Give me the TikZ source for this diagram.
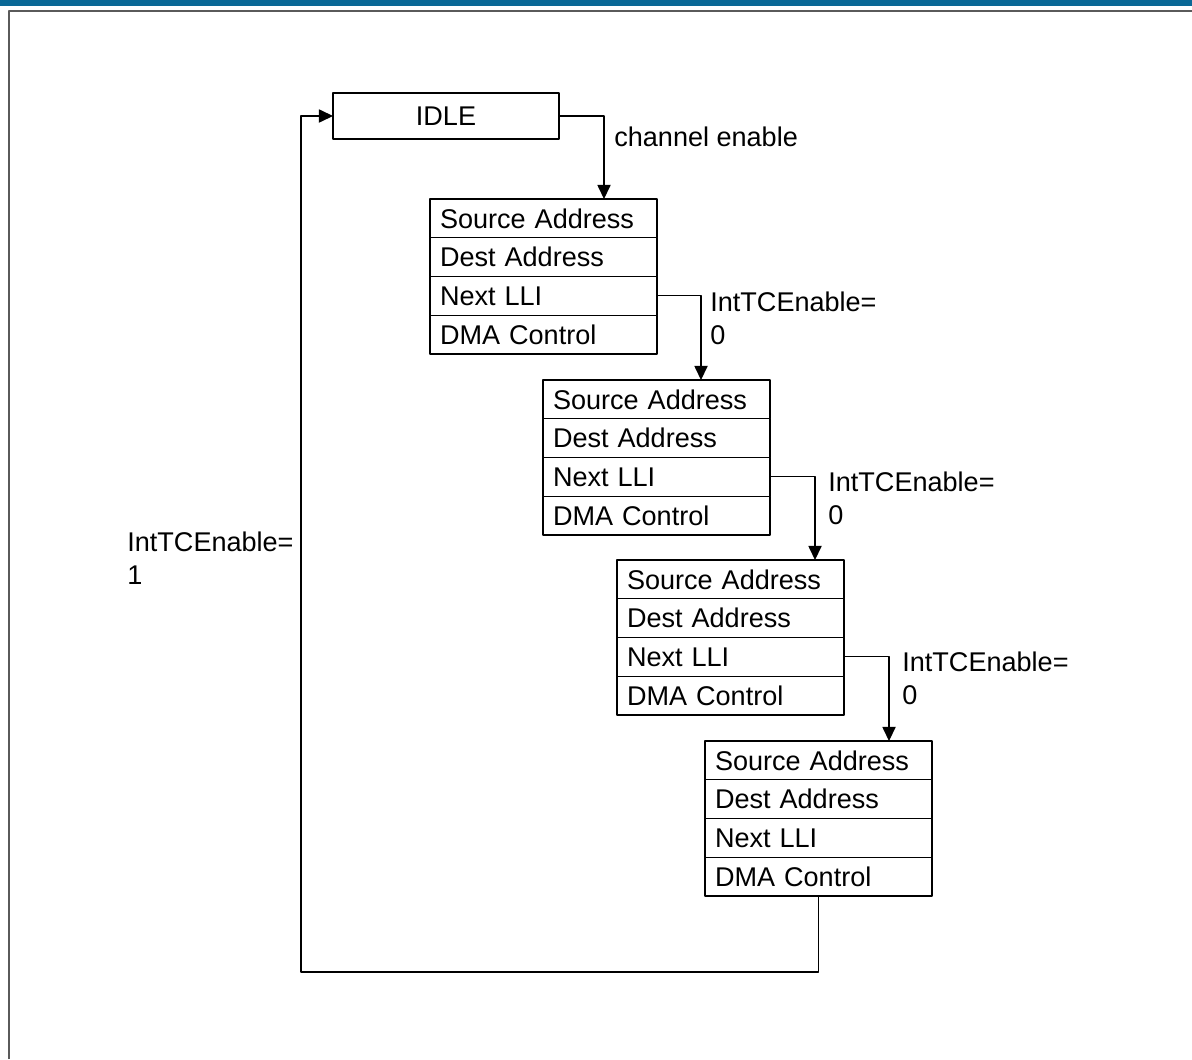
\documentclass[tikz,border=0pt]{standalone}
\usepackage{fontspec}
\setmainfont{Liberation Sans}
\usetikzlibrary{arrows.meta, positioning, calc}
\definecolor{bandblue}{RGB}{10,104,150}
\definecolor{framegray}{RGB}{90,90,90}

\begin{document}
\begin{tikzpicture}[x=0.02cm, y=-0.02cm, line join=round,
    font=\fontsize{15.4}{18.6}\selectfont,
    field/.style={draw, line width=0.7pt, text width=4.14cm, align=left,
      inner xsep=0.2cm, inner ysep=0pt, outer sep=0pt, minimum height=0.775cm,
      text height=11pt, text depth=0pt},
    state/.style={draw, line width=0.7pt, minimum width=4.52cm,
      minimum height=0.92cm, inner sep=0pt, outer sep=0pt},
    cond/.style={align=left, anchor=north west, inner sep=0pt},
    flow/.style={line width=0.7pt, -{Triangle[length=8pt, width=7.5pt]}}]
  \useasboundingbox (0,0) rectangle (1192,1059);
  % page frame
  \fill[bandblue] (0,0) rectangle (1192,6);
  \draw[framegray, line width=0.8pt] (9,1059) -- (9,11) -- (1192,11);

  % states
  \node[state, anchor=north west] (idle) at (333,93) {IDLE};
  \foreach \i/\x/\y in {1/430/199, 2/543/380, 3/617/560, 4/705/741} {
    \node[field, anchor=north west] (src\i) at (\x,\y) {Source Address};
    \node[field, below=0pt of src\i] (dst\i) {Dest Address};
    \node[field, below=0pt of dst\i] (nxt\i) {Next LLI};
    \node[field, below=0pt of nxt\i] (ctl\i) {DMA Control};
  }

  % transitions
  \draw[flow] (idle.east) -| ($(src1.north west)+(174,0)$);
  \draw[flow] (nxt1.east) -| ($(src2.north west)+(158,0)$);
  \draw[flow] (nxt2.east) -| ($(src3.north west)+(198,0)$);
  \draw[flow] (nxt3.east) -| ($(src4.north west)+(184,0)$);
  \coordinate (ret) at (301,972);
  \draw[flow] (ctl4.south) |- (ret) |- (idle.west);

  % conditions
  \node[cond] (chen) at (614,127) {channel enable};
  \node[cond] (tc1) at (710,292) {IntTCEnable=\\0};
  \node[cond] (tc2) at (828,472) {IntTCEnable=\\0};
  \node[cond] (tc3) at (902,652) {IntTCEnable=\\0};
  \node[cond] (tcret) at (127,532) {IntTCEnable=\\1};
\end{tikzpicture}
\end{document}
